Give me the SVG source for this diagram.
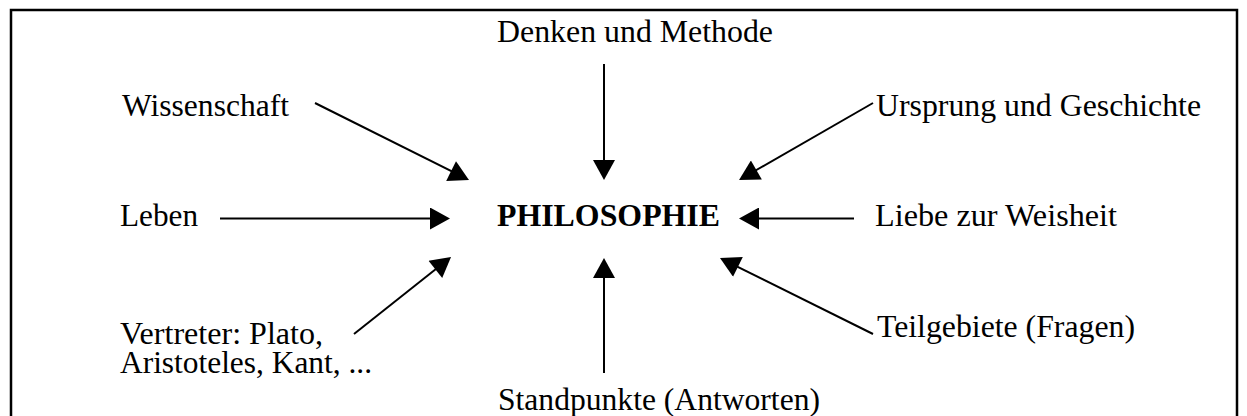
<svg xmlns="http://www.w3.org/2000/svg" width="1247" height="416" viewBox="0 0 1247 416">
  <style>
    .lbl { font-family: "Liberation Serif", "Times New Roman", serif; font-size: 31.7px; fill: #000; }
    .bold { font-weight: bold; }
    .conn { stroke: #000; stroke-width: 2; fill: none; marker-end: url(#ah); }
    .frame { stroke: #000; stroke-width: 2.5; fill: none; }
  </style>
  <defs>
    <marker id="ah" markerUnits="userSpaceOnUse" markerWidth="22" markerHeight="22" viewBox="0 0 20 22" refX="16" refY="11" orient="auto">
      <path d="M0,0 L20,11 L0,22 z" fill="#000"/>
    </marker>
  </defs>
  <rect width="1247" height="416" fill="#fff"/>
  <path class="frame" d="M11,418 V10 H1237 V418"/>

  <g id="node-philosophie"><text class="lbl bold" x="497" y="226" textLength="223" lengthAdjust="spacingAndGlyphs">PHILOSOPHIE</text></g>
  <g id="node-denken"><text class="lbl" x="497" y="42" textLength="276" lengthAdjust="spacingAndGlyphs">Denken und Methode</text></g>
  <g id="node-wissenschaft"><text class="lbl" x="122" y="116" textLength="167" lengthAdjust="spacingAndGlyphs">Wissenschaft</text></g>
  <g id="node-ursprung"><text class="lbl" x="876" y="116" textLength="325" lengthAdjust="spacingAndGlyphs">Ursprung und Geschichte</text></g>
  <g id="node-leben"><text class="lbl" x="120" y="226" textLength="78" lengthAdjust="spacingAndGlyphs">Leben</text></g>
  <g id="node-liebe"><text class="lbl" x="875" y="226" textLength="242" lengthAdjust="spacingAndGlyphs">Liebe zur Weisheit</text></g>
  <g id="node-vertreter">
    <text class="lbl" x="120" y="344" textLength="203" lengthAdjust="spacingAndGlyphs">Vertreter: Plato,</text>
    <text class="lbl" x="120" y="373" textLength="252" lengthAdjust="spacingAndGlyphs">Aristoteles, Kant, ...</text>
  </g>
  <g id="node-teilgebiete"><text class="lbl" x="877" y="337" textLength="258" lengthAdjust="spacingAndGlyphs">Teilgebiete (Fragen)</text></g>
  <g id="node-standpunkte"><text class="lbl" x="498" y="410" textLength="322" lengthAdjust="spacingAndGlyphs">Standpunkte (Antworten)</text></g>

  <g id="connectors">
    <line class="conn" x1="315" y1="103" x2="465.4" y2="178.2"/>
    <line class="conn" x1="604" y1="64" x2="604" y2="176"/>
    <line class="conn" x1="873" y1="103" x2="742.5" y2="178"/>
    <line class="conn" x1="220" y1="218.5" x2="446" y2="218.5"/>
    <line class="conn" x1="854" y1="218.5" x2="743" y2="218.5"/>
    <line class="conn" x1="354" y1="334" x2="447.9" y2="259.5"/>
    <line class="conn" x1="604" y1="373" x2="604" y2="262"/>
    <line class="conn" x1="873" y1="334" x2="723.6" y2="259.8"/>
  </g>
</svg>
